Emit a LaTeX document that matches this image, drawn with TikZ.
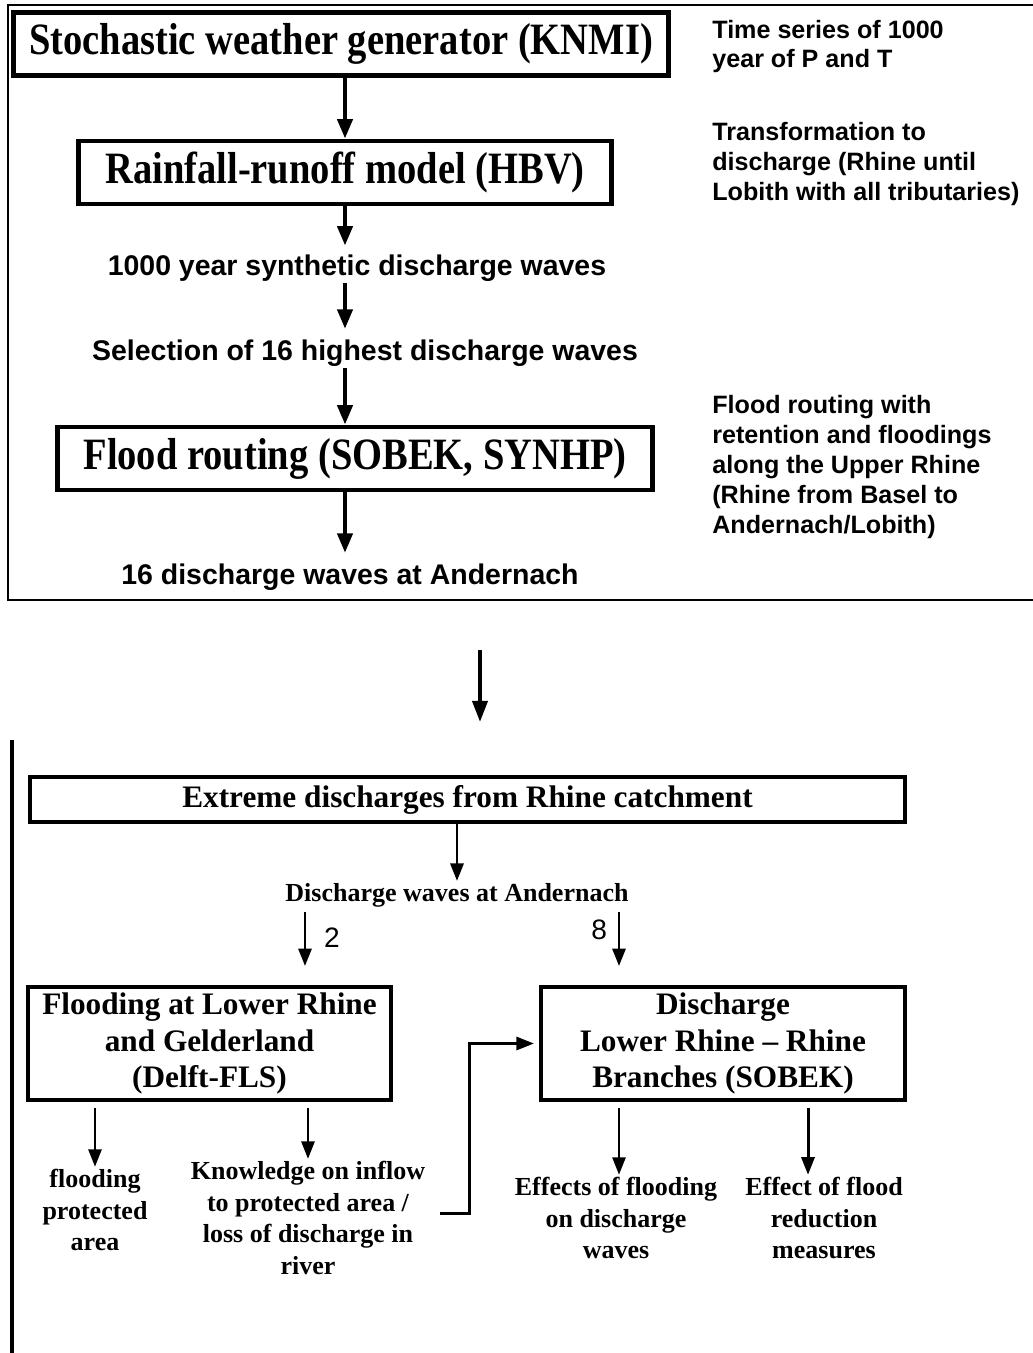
\documentclass[tikz,border=0pt]{standalone}
\usepackage{fontspec}
\setmainfont{Liberation Serif}
\setsansfont{Liberation Sans}
\newfontfamily\narrowserif[FakeStretch=0.86]{Liberation Serif}
\usetikzlibrary{arrows.meta, positioning, calc}
\tikzset{
    model/.style={rectangle, draw, line width=2.8pt, minimum height=1.26cm, inner sep=0pt, font=\narrowserif\bfseries\fontsize{25.5}{28}\selectfont},
    flowlabel/.style={inner sep=1pt, font=\sffamily\bfseries\fontsize{16.2}{19}\selectfont},
    note/.style={anchor=west, align=left, inner sep=0pt, font=\sffamily\bfseries\fontsize{14.3}{17}\selectfont},
    tool/.style={rectangle, draw, line width=2.3pt, minimum width=7.27cm, minimum height=2.26cm, align=center, font=\bfseries\fontsize{17.8}{21}\selectfont},
    result/.style={align=center, inner sep=1pt, font=\bfseries\fontsize{14.8}{18.1}\selectfont},
    count/.style={inner sep=1pt, font=\sffamily\fontsize{16}{19}\selectfont}
}

\begin{document}
\begin{tikzpicture}[
    x=0.02cm, y=-0.02cm,
    arrow/.style={-{Triangle[width=8.5pt,length=11pt]}, line width=2.3pt},
    thinarrow/.style={-{Triangle[width=7.4pt,length=10pt]}, line width=1.7pt}
]
    \useasboundingbox (0,0) rectangle (1033,1353);

    % Upper panel (open to the right)
    \draw[line width=1.1pt] (1045,5) -- (8,5) -- (8,600) -- (1045,600);

    % Model chain
    \node[model, minimum width=13.1cm] (knmi) at (341,44) {Stochastic weather generator (KNMI)};
    \node[model, minimum width=10.66cm] (hbv) at (345,172.5) {Rainfall-runoff model (HBV)};
    \node[flowlabel] (synthetic) at (357,268) {1000 year synthetic discharge waves};
    \node[flowlabel] (highest) at (365,353) {Selection of 16 highest discharge waves};
    \node[model, minimum width=11.92cm] (routing) at (355,458.5) {Flood routing (SOBEK, SYNHP)};
    \node[flowlabel] (andernach) at (350,577) {16 discharge waves at Andernach};

    \draw[arrow] (knmi.south -| hbv.north) -- (hbv.north);
    \draw[arrow, shorten >=4pt] (hbv.south) -- (hbv.south |- synthetic.north);
    \draw[arrow, shorten >=5pt] (synthetic.south -| hbv.south) -- (highest.north -| hbv.south);
    \draw[arrow] (highest.south -| hbv.south) -- (routing.north -| hbv.south);
    \draw[arrow, shorten >=5pt] (routing.south -| hbv.south) -- (andernach.north -| hbv.south);

    % Notes on the right
    \node[note] (weather note) at (712,46.5) {Time series of 1000\\year of P and T};
    \node[note] (runoff note) at (712,164) {Transformation to\\discharge (Rhine until\\Lobith with all tributaries)};
    \node[note] (routing note) at (712,467) {Flood routing with\\retention and floodings\\along the Upper Rhine\\(Rhine from Basel to\\Andernach/Lobith)};

    % Hand-over between the panels
    \coordinate (hand off) at (480,650);
    \coordinate (hand on) at (480,722);
    \draw[arrow, -{Triangle[width=8.5pt,length=12pt]}] (hand off) -- (hand on);

    % Lower panel
    \draw[line width=2.8pt] (12,740) -- (12,1360);
    \node[tool, minimum width=17.5cm, minimum height=0.9cm] (extreme) at (467.5,799.5) {Extreme discharges from Rhine catchment};
    \node[result] (waves) at (457,895) {Discharge waves at Andernach};
    \node[tool] (fls) at (209.5,1043.5) {Flooding at Lower Rhine\\and Gelderland\\(Delft-FLS)};
    \node[tool] (branches) at (723,1043.5) {Discharge\\Lower Rhine -- Rhine\\Branches (SOBEK)};

    \draw[thinarrow] (extreme.south -| waves.north) -- (waves.north);

    \coordinate (split left) at (305,912);
    \coordinate (split right) at (619,912);
    \draw[thinarrow, shorten >=10.5pt] (split left) -- (split left |- fls.north) node[count, pos=0.35, right=9pt] (two) {2};
    \draw[thinarrow, shorten >=10.5pt] (split right) -- (split right |- branches.north) node[count, pos=0.25, left=5pt] (eight) {8};

    % Results
    \node[result] (protected) at (95,1210) {flooding\\protected\\area};
    \node[result] (inflow) at (308,1218) {Knowledge on inflow\\to protected area /\\loss of discharge in\\river};
    \node[result] (wave effect) at (616,1218) {Effects of flooding\\on discharge\\waves};
    \node[result] (measures) at (824,1218) {Effect of flood\\reduction\\measures};

    \draw[thinarrow, shorten <=3pt] (fls.south -| protected.north) -- (protected.north);
    \draw[thinarrow, shorten <=3pt] (fls.south -| inflow.north) -- (inflow.north);
    \draw[thinarrow, shorten <=3pt] ([xshift=0.06cm]wave effect.north |- branches.south) -- ([xshift=0.06cm]wave effect.north);
    \draw[thinarrow, shorten <=3pt] ([xshift=-0.32cm]measures.north |- branches.south) -- ([xshift=-0.32cm]measures.north);

    % Feedback into the river model
    \draw[thinarrow, shorten >=3pt] ([shift={(0.25cm,0.1cm)}]inflow.east) -- ++(30,0) |- (branches.west);

\end{tikzpicture}
\end{document}
